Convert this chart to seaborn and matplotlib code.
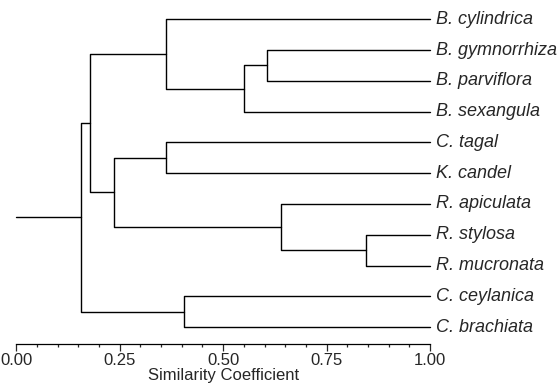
import numpy as np
import pandas as pd
import matplotlib
matplotlib.use("Agg")
import matplotlib.pyplot as plt
from matplotlib.ticker import MultipleLocator
import seaborn as sns

# Leaves, top to bottom
leaves = ["B. cylindrica", "B. gymnorrhiza", "B. parviflora", "B. sexangula",
          "C. tagal", "K. candel", "R. apiculata", "R. stylosa", "R. mucronata",
          "C. ceylanica", "C. brachiata"]

# Merges in agglomeration order; new clusters get ids 11, 12, ...
merge_left = [1, 7, 6, 11, 9, 0, 4, 17, 16, 19]
merge_right = [2, 8, 12, 3, 10, 14, 5, 13, 18, 15]
merge_sim = [0.607, 0.845, 0.641, 0.551, 0.405, 0.363, 0.363, 0.236, 0.178, 0.156]

tick_values = [0.0, 0.25, 0.5, 0.75, 1.0]
tick_labels = ["0.00", "0.25", "0.50", "0.75", "1.00"]

sns.set_style("ticks")
plt.rcParams['font.family'] = ['Liberation Sans', 'DejaVu Sans']

# node coordinates: leaves sit at similarity 1.0
node_x = {i: 1.0 for i in range(len(leaves))}
node_y = {i: float(i) for i in range(len(leaves))}

rows = []
for k, (a, b, s) in enumerate(zip(merge_left, merge_right, merge_sim)):
    nid = len(leaves) + k
    node_x[nid] = s
    node_y[nid] = (node_y[a] + node_y[b]) / 2
    pts = [(node_x[a], node_y[a]), (s, node_y[a]), (s, node_y[b]), (node_x[b], node_y[b])]
    for x, y in pts:
        rows.append({"seg": k, "x": x, "y": y})

# stem from the root back to zero
root = len(leaves) + len(merge_sim) - 1
rows.append({"seg": len(merge_sim), "x": 0.0, "y": node_y[root]})
rows.append({"seg": len(merge_sim), "x": node_x[root], "y": node_y[root]})
segs = pd.DataFrame(rows)

fig = plt.figure(figsize=(5.58, 3.89), dpi=100)
ax = fig.add_axes([16.33 / 558, 1 - 344.3 / 389, 413.67 / 558, 340.4 / 389])

sns.lineplot(data=segs, x="x", y="y", units="seg", estimator=None, sort=False,
             color="black", linewidth=1.0, clip_on=False, ax=ax)

ax.set_xlim(0, 1)
ax.set_ylim(10.56, -0.5)

for i, name in enumerate(leaves):
    ax.annotate(name, xy=(1.0, i), xytext=(4, 0), textcoords="offset points",
                ha="left", va="center", fontsize=13, style="italic",
                annotation_clip=False)

ax.set_xticks(tick_values)
ax.set_xticklabels(tick_labels, fontsize=12)
ax.xaxis.set_minor_locator(MultipleLocator(0.05))
ax.tick_params(axis="x", which="major", length=5, width=0.9, pad=1, direction="out")
ax.tick_params(axis="x", which="minor", length=2.5, width=0.9, direction="out")
ax.set_yticks([])
ax.set_ylabel("")
ax.set_xlabel("Similarity Coefficient", fontsize=12, labelpad=0)

for side in ["left", "right", "top"]:
    ax.spines[side].set_visible(False)
ax.spines["bottom"].set_linewidth(0.9)
ax.spines["bottom"].set_color("black")

fig.savefig("out.png", dpi=100)
